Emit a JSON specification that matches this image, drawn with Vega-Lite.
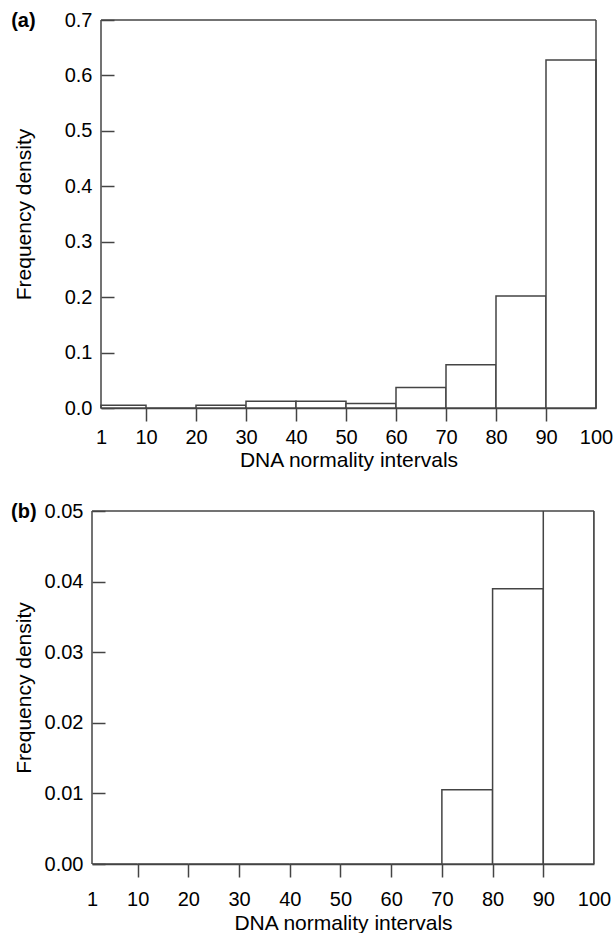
{
  "$schema": "https://vega.github.io/schema/vega-lite/v6.json",
  "padding": {"left": 11, "top": 10, "right": 0, "bottom": 0},
  "background": "white",
  "datasets": {
    "a": [
      {"lo": 1, "hi": 10, "density": 0.005},
      {"lo": 10, "hi": 20, "density": 0},
      {"lo": 20, "hi": 30, "density": 0.005},
      {"lo": 30, "hi": 40, "density": 0.012},
      {"lo": 40, "hi": 50, "density": 0.012},
      {"lo": 50, "hi": 60, "density": 0.008},
      {"lo": 60, "hi": 70, "density": 0.037},
      {"lo": 70, "hi": 80, "density": 0.078},
      {"lo": 80, "hi": 90, "density": 0.202},
      {"lo": 90, "hi": 100, "density": 0.628}
    ],
    "b": [
      {"lo": 1, "hi": 10, "density": 0},
      {"lo": 10, "hi": 20, "density": 0},
      {"lo": 20, "hi": 30, "density": 0},
      {"lo": 30, "hi": 40, "density": 0},
      {"lo": 40, "hi": 50, "density": 0},
      {"lo": 50, "hi": 60, "density": 0},
      {"lo": 60, "hi": 70, "density": 0},
      {"lo": 70, "hi": 80, "density": 0.0105},
      {"lo": 80, "hi": 90, "density": 0.039},
      {"lo": 90, "hi": 100, "density": 0.95}
    ],
    "one": [{}]
  },
  "config": {
    "font": "Liberation Sans",
    "view": {"stroke": null},
    "axis": {
      "grid": false,
      "zindex": 1,
      "ticks": true,
      "domainColor": "#444444",
      "domainWidth": 1.5,
      "tickColor": "#444444",
      "tickWidth": 1.5,
      "labelFont": "Liberation Sans",
      "labelFontSize": 20,
      "labelColor": "black",
      "labelFlush": false,
      "labelOverlap": false,
      "titleFont": "Liberation Sans",
      "titleFontSize": 21,
      "titleFontWeight": "normal",
      "titleColor": "black"
    },
    "rule": {"stroke": "#444444", "strokeWidth": 1.5},
    "title": {"font": "Liberation Sans", "fontSize": 20, "fontWeight": "bold", "anchor": "start", "frame": "bounds", "color": "black"}
  },
  "concat": [
    {
      "title": {"text": "(a)", "baseline": "middle", "offset": -31, "dx": -2},
      "width": 504,
      "height": 388,
      "layer": [
        {
          "data": {"name": "a"},
          "mark": {"type": "rect", "fill": "white", "stroke": "#444444", "strokeWidth": 1.5},
          "encoding": {
            "x": {
              "field": "lo", "type": "quantitative",
              "scale": {"domain": [1, 100], "range": [9, 504], "nice": false, "zero": false},
              "axis": {"values": [1, 10, 20, 30, 40, 50, 60, 70, 80, 90, 100], "tickSize": 13, "tickOpacity": {"condition": {"test": "datum.value == 1 || datum.value == 100", "value": 0}, "value": 1}, "labelPadding": 6, "title": "DNA normality intervals", "titlePadding": 2}
            },
            "x2": {"field": "hi"},
            "y": {
              "field": "density", "type": "quantitative",
              "scale": {"domain": [0, 0.7], "nice": false},
              "axis": {"values": [0, 0.1, 0.2, 0.3, 0.4, 0.5, 0.6, 0.7], "format": ".1f", "domain": false, "offset": -22, "tickSize": 13, "labelPadding": 9, "title": "Frequency density", "titlePadding": 30}
            },
            "y2": {"datum": 0}
          }
        },
        {
          "data": {"name": "one"},
          "mark": {"type": "rule"},
          "encoding": {
            "x": {"datum": 1, "axis": {"values": [1, 10, 20, 30, 40, 50, 60, 70, 80, 90, 100], "tickSize": 13, "tickOpacity": {"condition": {"test": "datum.value == 1 || datum.value == 100", "value": 0}, "value": 1}, "labelPadding": 6, "title": "DNA normality intervals", "titlePadding": 2}},
            "y": {"datum": 0, "axis": {"values": [0, 0.1, 0.2, 0.3, 0.4, 0.5, 0.6, 0.7], "format": ".1f", "domain": false, "offset": -22, "tickSize": 13, "labelPadding": 9, "title": "Frequency density", "titlePadding": 30}},
            "y2": {"datum": 0.7}
          }
        },
        {
          "data": {"name": "one"},
          "mark": {"type": "rule"},
          "encoding": {
            "x": {"datum": 100, "axis": {"values": [1, 10, 20, 30, 40, 50, 60, 70, 80, 90, 100], "tickSize": 13, "tickOpacity": {"condition": {"test": "datum.value == 1 || datum.value == 100", "value": 0}, "value": 1}, "labelPadding": 6, "title": "DNA normality intervals", "titlePadding": 2}},
            "y": {"datum": 0, "axis": {"values": [0, 0.1, 0.2, 0.3, 0.4, 0.5, 0.6, 0.7], "format": ".1f", "domain": false, "offset": -22, "tickSize": 13, "labelPadding": 9, "title": "Frequency density", "titlePadding": 30}},
            "y2": {"datum": 0.7}
          }
        },
        {
          "data": {"name": "one"},
          "mark": {"type": "rule"},
          "encoding": {
            "x": {"datum": 1, "axis": {"values": [1, 10, 20, 30, 40, 50, 60, 70, 80, 90, 100], "tickSize": 13, "tickOpacity": {"condition": {"test": "datum.value == 1 || datum.value == 100", "value": 0}, "value": 1}, "labelPadding": 6, "title": "DNA normality intervals", "titlePadding": 2}},
            "x2": {"datum": 100},
            "y": {"datum": 0.7, "axis": {"values": [0, 0.1, 0.2, 0.3, 0.4, 0.5, 0.6, 0.7], "format": ".1f", "domain": false, "offset": -22, "tickSize": 13, "labelPadding": 9, "title": "Frequency density", "titlePadding": 30}}
          }
        }
      ]
    },
    {
      "title": {"text": "(b)", "baseline": "middle", "offset": -31, "dx": -2},
      "width": 502,
      "height": 353,
      "layer": [
        {
          "data": {"name": "b"},
          "mark": {"type": "rect", "fill": "white", "stroke": "#444444", "strokeWidth": 1.5, "clip": true},
          "encoding": {
            "x": {
              "field": "lo", "type": "quantitative",
              "scale": {"domain": [1, 100], "nice": false, "zero": false},
              "axis": {"values": [1, 10, 20, 30, 40, 50, 60, 70, 80, 90, 100], "tickSize": 13, "tickOpacity": {"condition": {"test": "datum.value == 1 || datum.value == 100", "value": 0}, "value": 1}, "labelPadding": 12, "title": "DNA normality intervals", "titlePadding": 3}
            },
            "x2": {"field": "hi"},
            "y": {
              "field": "density", "type": "quantitative",
              "scale": {"domain": [0, 0.05], "nice": false},
              "axis": {"values": [0, 0.01, 0.02, 0.03, 0.04, 0.05], "format": ".2f", "domain": false, "offset": -13, "tickSize": 13, "labelPadding": 9, "title": "Frequency density", "titlePadding": 10}
            },
            "y2": {"datum": 0}
          }
        },
        {
          "data": {"name": "one"},
          "mark": {"type": "rule"},
          "encoding": {
            "x": {"datum": 1, "axis": {"values": [1, 10, 20, 30, 40, 50, 60, 70, 80, 90, 100], "tickSize": 13, "tickOpacity": {"condition": {"test": "datum.value == 1 || datum.value == 100", "value": 0}, "value": 1}, "labelPadding": 12, "title": "DNA normality intervals", "titlePadding": 3}},
            "y": {"datum": 0, "axis": {"values": [0, 0.01, 0.02, 0.03, 0.04, 0.05], "format": ".2f", "domain": false, "offset": -13, "tickSize": 13, "labelPadding": 9, "title": "Frequency density", "titlePadding": 10}},
            "y2": {"datum": 0.05}
          }
        },
        {
          "data": {"name": "one"},
          "mark": {"type": "rule"},
          "encoding": {
            "x": {"datum": 100, "axis": {"values": [1, 10, 20, 30, 40, 50, 60, 70, 80, 90, 100], "tickSize": 13, "tickOpacity": {"condition": {"test": "datum.value == 1 || datum.value == 100", "value": 0}, "value": 1}, "labelPadding": 12, "title": "DNA normality intervals", "titlePadding": 3}},
            "y": {"datum": 0, "axis": {"values": [0, 0.01, 0.02, 0.03, 0.04, 0.05], "format": ".2f", "domain": false, "offset": -13, "tickSize": 13, "labelPadding": 9, "title": "Frequency density", "titlePadding": 10}},
            "y2": {"datum": 0.05}
          }
        },
        {
          "data": {"name": "one"},
          "mark": {"type": "rule"},
          "encoding": {
            "x": {"datum": 1, "axis": {"values": [1, 10, 20, 30, 40, 50, 60, 70, 80, 90, 100], "tickSize": 13, "tickOpacity": {"condition": {"test": "datum.value == 1 || datum.value == 100", "value": 0}, "value": 1}, "labelPadding": 12, "title": "DNA normality intervals", "titlePadding": 3}},
            "x2": {"datum": 100},
            "y": {"datum": 0.05, "axis": {"values": [0, 0.01, 0.02, 0.03, 0.04, 0.05], "format": ".2f", "domain": false, "offset": -13, "tickSize": 13, "labelPadding": 9, "title": "Frequency density", "titlePadding": 10}}
          }
        }
      ]
    }
  ],
  "columns": 1,
  "align": "none",
  "spacing": 31
}
